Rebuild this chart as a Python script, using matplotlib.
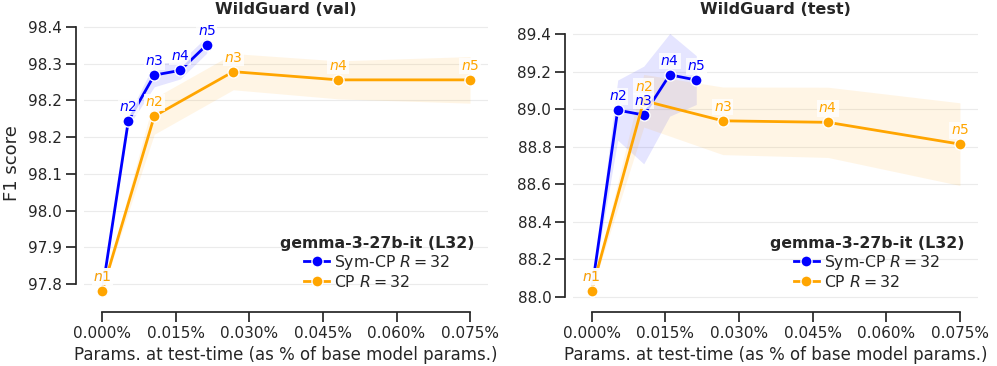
import numpy as np
import matplotlib
matplotlib.use('Agg')
import matplotlib.pyplot as plt
from matplotlib.ticker import FormatStrFormatter, FuncFormatter

# x positions: params at test-time (% of base model params)
sym_x = [0.0, 0.0053, 0.0106, 0.0159, 0.0213]
cp_x = [0.0, 0.0106, 0.0267, 0.0481, 0.075]
point_labels = ['n1', 'n2', 'n3', 'n4', 'n5']

# WildGuard (val)
val_sym_f1 = [97.802, 98.195, 98.301, 98.312, 98.371]
val_sym_std = [0.0, 0.012, 0.027, 0.020, 0.019]
val_cp_f1 = [97.802, 98.206, 98.309, 98.290, 98.290]
val_cp_std = [0.0, 0.042, 0.042, 0.044, 0.054]

# WildGuard (test)
test_sym_f1 = [88.034, 88.995, 88.969, 89.183, 89.155]
test_sym_std = [0.0, 0.16, 0.26, 0.22, 0.13]
test_cp_f1 = [88.034, 89.045, 88.938, 88.930, 88.814]
test_cp_std = [0.0, 0.14, 0.18, 0.187, 0.22]

x_ticks = [0.0, 0.015, 0.030, 0.045, 0.060, 0.075]
val_yticks = np.linspace(97.8175, 98.4125, 8)
test_yticks = [88.0, 88.2, 88.4, 88.6, 88.8, 89.0, 89.2, 89.4]

SYM_COLOR = '#0000ff'
CP_COLOR = '#ffa500'
DARK = '#262626'

plt.rcParams['font.family'] = 'DejaVu Sans'
plt.rcParams['text.color'] = DARK
plt.rcParams['axes.labelcolor'] = DARK
plt.rcParams['xtick.color'] = DARK
plt.rcParams['ytick.color'] = DARK


def draw_series(ax, x, y, std, color, name):
    x = np.array(x)
    y = np.array(y)
    std = np.array(std)
    ax.fill_between(x, y - std, y + std, color=color, alpha=0.1, linewidth=0, zorder=1)
    ax.plot(x, y, '-o', color=color, linewidth=2, markersize=8,
            markeredgecolor='white', markeredgewidth=1, label=name, zorder=3)
    for xi, yi, lab in zip(x, y, point_labels):
        ax.annotate(f'${lab}$', (xi, yi), xytext=(0, 10), textcoords='offset points',
                    ha='center', va='center', fontsize=10, color=color, zorder=5,
                    bbox=dict(boxstyle='square,pad=0.1', fc='white', ec='none', alpha=0.8))


def draw_panel(ax, title, sym_f1, sym_std, cp_f1, cp_std, yticks, ylim, ylabel=None):
    draw_series(ax, sym_x, sym_f1, sym_std, SYM_COLOR, 'Sym-CP $R = 32$')
    draw_series(ax, cp_x, cp_f1, cp_std, CP_COLOR, 'CP $R = 32$')

    ax.set_xlim(-0.00375, 0.07875)
    ax.set_ylim(*ylim)
    ax.set_xticks(x_ticks)
    ax.set_yticks(yticks)
    ax.xaxis.set_major_formatter(FuncFormatter(lambda v, p: f'{v:.3f}%'))
    ax.yaxis.set_major_formatter(FormatStrFormatter('%.1f'))
    ax.tick_params(labelsize=11, length=7, width=1.25, pad=3)

    ax.grid(axis='y', color='#ebebeb', linewidth=0.8, zorder=0)
    ax.set_axisbelow(True)

    for side in ['top', 'right']:
        ax.spines[side].set_visible(False)
    for side in ['left', 'bottom']:
        ax.spines[side].set_position(('outward', 5.8))
        ax.spines[side].set_linewidth(1.25)
        ax.spines[side].set_color(DARK)
    ax.spines['left'].set_bounds(yticks[0], yticks[-1])
    ax.spines['bottom'].set_bounds(x_ticks[0], x_ticks[-1])

    ax.set_title(title, fontsize=11.5, fontweight='bold')
    ax.set_xlabel('Params. at test-time (as % of base model params.)', fontsize=12)
    if ylabel:
        ax.set_ylabel(ylabel, fontsize=13, labelpad=5)

    leg = ax.legend(loc='lower right', frameon=False, fontsize=11.3,
                    title='gemma-3-27b-it (L32)', handlelength=1.6,
                    handletextpad=0.3, labelspacing=0.12)
    leg.get_title().set_fontweight('bold')
    leg.get_title().set_fontsize(11.3)


fig = plt.figure(figsize=(9.97, 3.66), dpi=100)
ax1 = fig.add_axes([0.0842, 0.1694, 0.4057, 0.7705])
ax2 = fig.add_axes([0.5750, 0.1694, 0.4063, 0.7705])

draw_panel(ax1, 'WildGuard (val)', val_sym_f1, val_sym_std, val_cp_f1, val_cp_std,
           val_yticks, (97.771, 98.424), ylabel='F1 score')
draw_panel(ax2, 'WildGuard (test)', test_sym_f1, test_sym_std, test_cp_f1, test_cp_std,
           test_yticks, (87.963, 89.464))

fig.savefig('out.png', dpi=100)
